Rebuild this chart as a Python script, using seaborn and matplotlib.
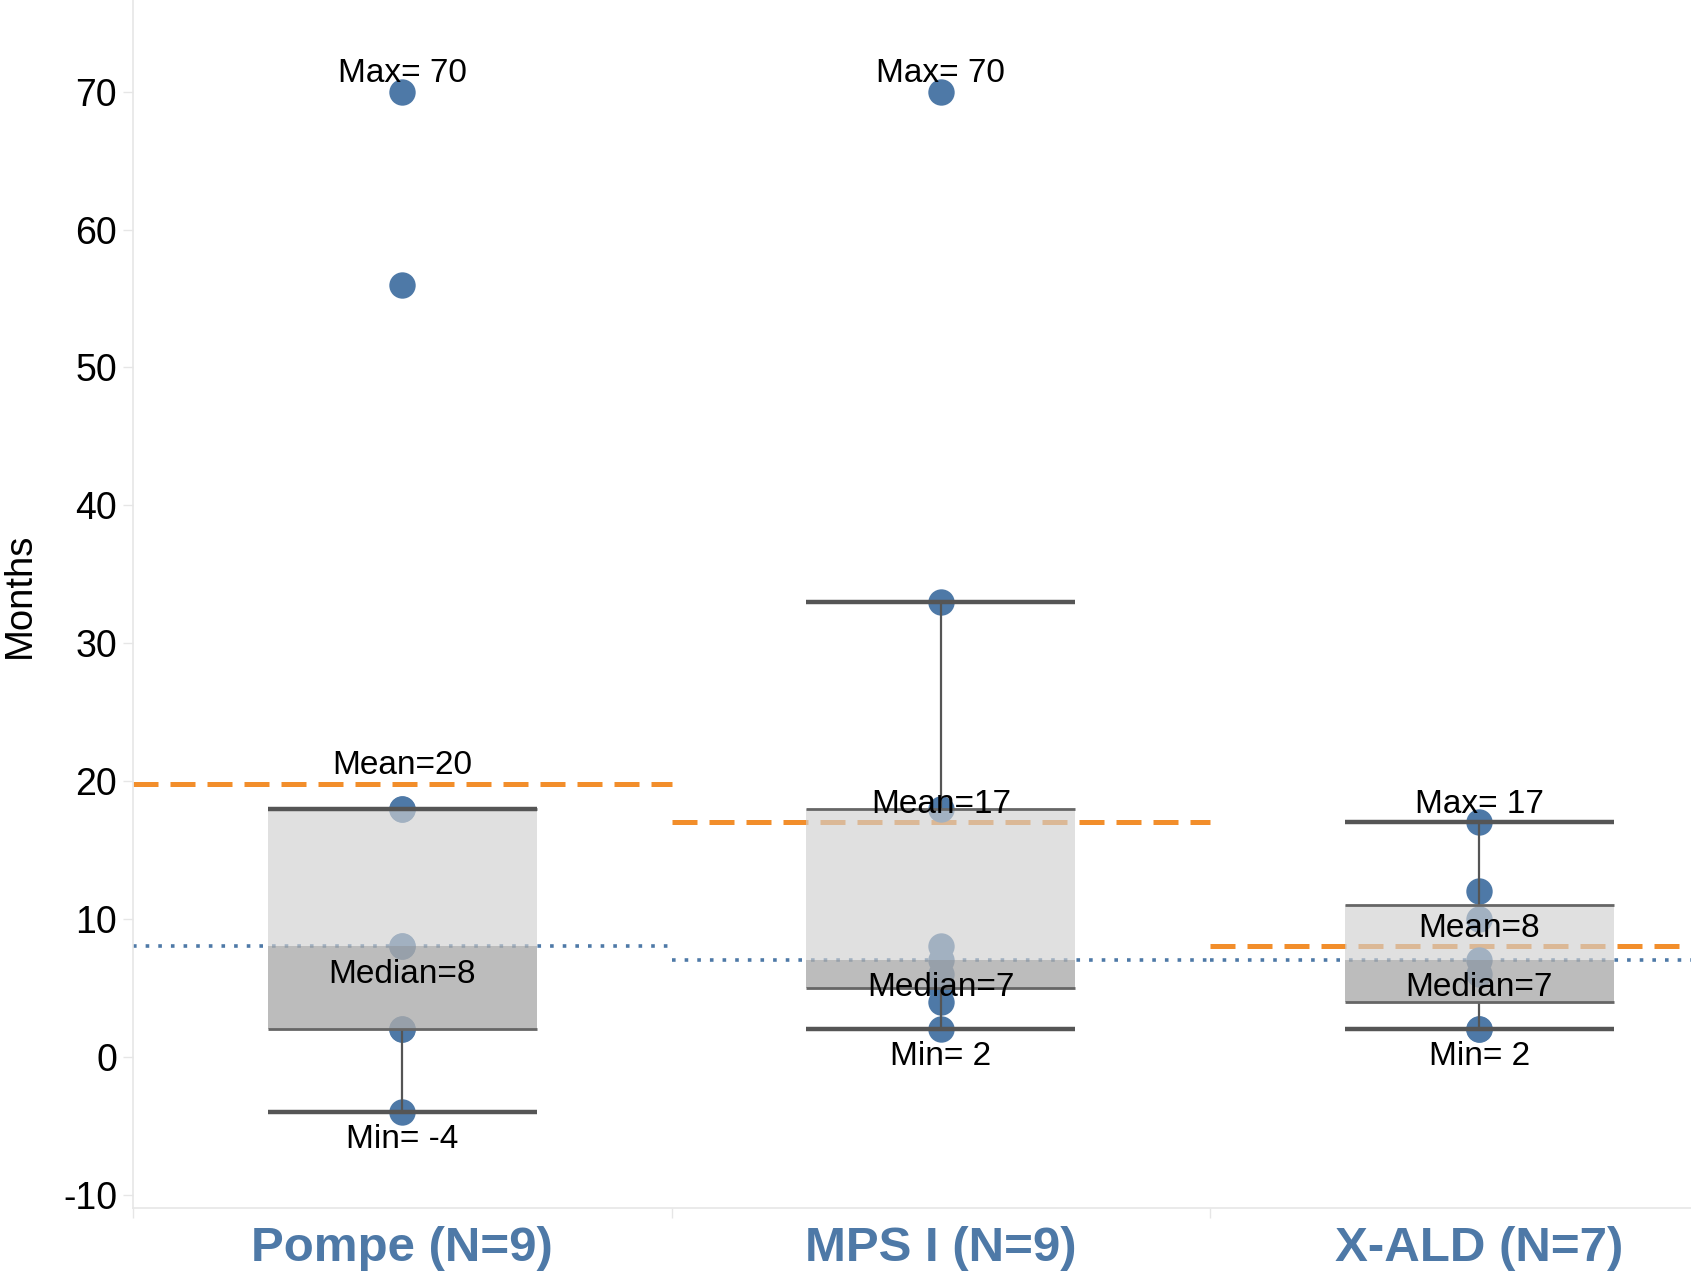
import numpy as np
import pandas as pd
import matplotlib
matplotlib.use("Agg")
import matplotlib.pyplot as plt
import seaborn as sns

# Months per patient, one list per disease group
groups = ["Pompe (N=9)", "MPS I (N=9)", "X-ALD (N=7)"]
pompe_months = [-4, 2, 2, 8, 8, 18, 18, 56, 70]
mps1_months = [2, 4, 5, 6, 7, 8, 18, 33, 70]
xald_months = [2, 2, 6, 7, 10, 12, 17]
y_ticks = [-10, 0, 10, 20, 30, 40, 50, 60, 70]

BLUE = "#4e79a7"
ORANGE = "#f28e2b"
AXIS_GREY = "#e6e6e6"

sns.set_theme(style="white")
plt.rcParams["font.family"] = ["Liberation Sans", "DejaVu Sans"]
plt.rcParams["axes.unicode_minus"] = False

df = pd.DataFrame({
    "group": np.repeat(groups, [len(pompe_months), len(mps1_months), len(xald_months)]),
    "months": pompe_months + mps1_months + xald_months,
})

fig = plt.figure(figsize=(16.91, 12.79), dpi=100)
ax = fig.add_axes([133 / 1691, 71 / 1279, 1558 / 1691, 1208 / 1279])

# Summary statistics per group (linear percentiles, 1.5 IQR whiskers)
stats = []
for g in groups:
    v = df.loc[df["group"] == g, "months"].to_numpy(float)
    q1, med, q3 = np.percentile(v, [25, 50, 75])
    iqr = q3 - q1
    stats.append(dict(
        q1=q1, med=med, q3=q3,
        lo=v[v >= q1 - 1.5 * iqr].min(),
        hi=v[v <= q3 + 1.5 * iqr].max(),
        mean=v.mean(), vmin=v.min(), vmax=v.max(),
    ))
pos = np.arange(len(groups))

# Per-panel reference lines: mean (orange dashed) and median (blue dotted)
for i, s in enumerate(stats):
    ax.plot([i - 0.5, i + 0.5], [s["mean"], s["mean"]], color=ORANGE,
            linewidth=3.6, linestyle=(0, (5, 2.4)), zorder=1)
    ax.plot([i - 0.5, i + 0.5], [s["med"], s["med"]], color=BLUE,
            linewidth=2.6, linestyle=(0, (1, 2.5)), zorder=1)

# Individual patients
sns.stripplot(data=df, x="group", y="months", order=groups, jitter=False,
              size=19, color=BLUE, linewidth=0, ax=ax, zorder=2)

# Box and whiskers
n_lines, n_patches = len(ax.lines), len(ax.patches)
sns.boxplot(data=df, x="group", y="months", order=groups, width=0.5, whis=1.5,
            color="#d0d0d0", saturation=1, linecolor="#555555", linewidth=1.6,
            showcaps=False, showfliers=False, medianprops={"visible": False},
            ax=ax)
for p in ax.patches[n_patches:]:
    p.set_edgecolor("none")
    p.set_alpha(0.65)
    p.set_zorder(3)
for ln in ax.lines[n_lines:]:
    ln.set_zorder(2.5)

# Darker lower half of each box (Q1 to median)
ax.bar(pos, [s["med"] - s["q1"] for s in stats], bottom=[s["q1"] for s in stats],
       width=0.5, color="#888888", alpha=0.4, linewidth=0, zorder=3.1)

# Box edges and whisker caps
ax.hlines([s["q1"] for s in stats], pos - 0.25, pos + 0.25, colors="#666666",
          linewidth=2.0, zorder=4)
ax.hlines([s["q3"] for s in stats], pos - 0.25, pos + 0.25, colors="#666666",
          linewidth=2.0, zorder=4)
ax.hlines([s["lo"] for s in stats], pos - 0.25, pos + 0.25, colors="#555555",
          linewidth=3.2, zorder=4)
ax.hlines([s["hi"] for s in stats], pos - 0.25, pos + 0.25, colors="#555555",
          linewidth=3.2, zorder=4)

# Value labels
above = dict(textcoords="offset points", xytext=(0, 7), ha="center",
             va="baseline", fontsize=24, color="black", zorder=5)
below = dict(above, xytext=(0, -26))
for i, s in enumerate(stats):
    ax.annotate(f"Max= {s['vmax']:.0f}", (i, s["vmax"]), **above)
    ax.annotate(f"Mean={s['mean']:.0f}", (i, s["mean"]), **above)
    ax.annotate(f"Median={s['med']:.0f}", (i, s["med"]), **below)
    ax.annotate(f"Min= {s['vmin']:.0f}", (i, s["vmin"]), **below)

# Axes styling
ax.set_xlim(-0.5, -0.5 + 1558 / 538.5)
ax.set_ylim(-10.97, 76.65)
ax.set_yticks(y_ticks)
ax.set_xticks(pos)
ax.set_xticklabels(groups, fontsize=35.5, fontweight="bold", color=BLUE)
ax.set_xticks([-0.5, 0.5, 1.5], minor=True)
ax.set_xlabel("")
ax.set_ylabel("Months", fontsize=27.5, color="black")
ax.yaxis.set_label_coords((19.5 - 133) / 1558, 0.507)
ax.yaxis.label.set_verticalalignment("center")

ax.tick_params(axis="y", which="major", left=True, length=7.2, width=1,
               color=AXIS_GREY, pad=4.3, labelsize=27, labelcolor="black")
ax.tick_params(axis="x", which="major", bottom=False, length=0, pad=13)
ax.tick_params(axis="x", which="minor", bottom=True, length=7.2, width=1,
               color=AXIS_GREY)

for side in ("top", "right"):
    ax.spines[side].set_visible(False)
for side in ("left", "bottom"):
    ax.spines[side].set_color(AXIS_GREY)
    ax.spines[side].set_linewidth(1.2)

fig.savefig("out.png", dpi=100, facecolor="white")
